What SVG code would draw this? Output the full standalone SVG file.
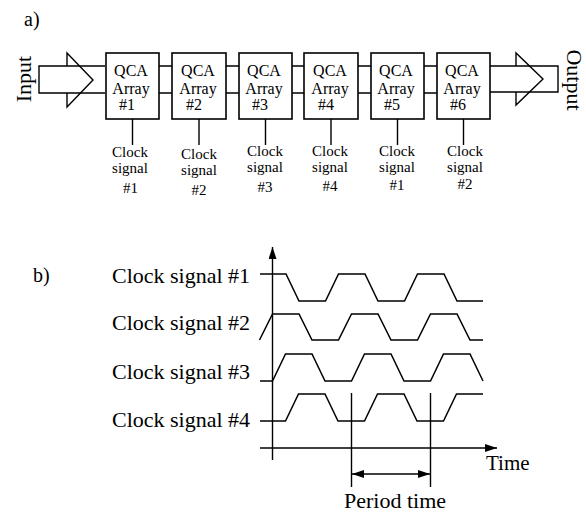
<svg xmlns="http://www.w3.org/2000/svg" width="586" height="514" viewBox="0 0 586 514">
<style>
  text { font-family: "Liberation Serif", "Times New Roman", serif; fill: #000; }
  .ln { stroke: #000; stroke-width: 1.4; fill: none; }
  .box { stroke: #000; stroke-width: 1.6; fill: #fff; }
  .bt { font-size: 16px; text-anchor: middle; }
  .ct { font-size: 15px; text-anchor: middle; }
  .lab { font-size: 22px; }
  .wave { stroke: #000; stroke-width: 1.5; fill: none; stroke-linejoin: miter; }
</style>
<defs>
  <marker id="ah" viewBox="0 0 12 8" refX="12" refY="4" markerWidth="12" markerHeight="8" markerUnits="userSpaceOnUse" orient="auto-start-reverse">
    <path d="M0,0 L12,4 L0,8 Z" fill="#000"/>
  </marker>
</defs>

<text x="24" y="26" font-size="20">a)</text>
<text x="33" y="282" font-size="20">b)</text>

<g id="connectors">
  <!-- input arrow -->
  <path class="ln" d="M105,66 L39,66 L39,93 L105,93"/>
  <path class="ln" d="M67,66 L67,53 L93,80 L67,107 L67,93"/>
  <!-- links between boxes -->
  <path class="ln" d="M159,66 H172 M159,93 H172 M226,66 H239 M226,93 H239 M292,66 H304 M292,93 H304 M358,66 H371 M358,93 H371 M424,66 H437 M424,93 H437"/>
  <!-- output arrow -->
  <path class="ln" d="M490,66 L558,66 L558,92 L490,92"/>
  <path class="ln" d="M516,66 L516,53 L543,79 L516,105 L516,92"/>
  <!-- clock lines -->
  <path class="ln" d="M132.5,119 V145 M199,119 V145 M265.5,119 V145 M331,119 V145 M397.5,119 V145 M463.5,119 V145"/>
</g>

<text class="lab" transform="translate(30.5,79) rotate(-90)" text-anchor="middle">Input</text>
<text class="lab" transform="translate(566.5,80) rotate(90)" text-anchor="middle">Output</text>

<g id="qca1"><rect class="box" x="106" y="53" width="53" height="66"/><text class="bt" x="131" y="76">QCA</text><text class="bt" x="131" y="93.5">Array</text><text class="bt" x="127" y="110">#1</text></g>
<g id="qca2"><rect class="box" x="172" y="53" width="54" height="66"/><text class="bt" x="198" y="76">QCA</text><text class="bt" x="198" y="93.5">Array</text><text class="bt" x="194" y="110">#2</text></g>
<g id="qca3"><rect class="box" x="239" y="53" width="53" height="66"/><text class="bt" x="264" y="76">QCA</text><text class="bt" x="264" y="93.5">Array</text><text class="bt" x="260" y="110">#3</text></g>
<g id="qca4"><rect class="box" x="304" y="53" width="54" height="66"/><text class="bt" x="330" y="76">QCA</text><text class="bt" x="330" y="93.5">Array</text><text class="bt" x="326" y="110">#4</text></g>
<g id="qca5"><rect class="box" x="371" y="53" width="53" height="66"/><text class="bt" x="396" y="76">QCA</text><text class="bt" x="396" y="93.5">Array</text><text class="bt" x="392" y="110">#5</text></g>
<g id="qca6"><rect class="box" x="437" y="53" width="53" height="66"/><text class="bt" x="462" y="76">QCA</text><text class="bt" x="462" y="93.5">Array</text><text class="bt" x="458" y="110">#6</text></g>

<g id="clk1"><text class="ct" x="130" y="157">Clock</text><text class="ct" x="130" y="173">signal</text><text class="ct" x="130.5" y="193">#1</text></g>
<g id="clk2"><text class="ct" x="199" y="159">Clock</text><text class="ct" x="199" y="175">signal</text><text class="ct" x="199" y="195">#2</text></g>
<g id="clk3"><text class="ct" x="265" y="156">Clock</text><text class="ct" x="265" y="172">signal</text><text class="ct" x="265" y="192">#3</text></g>
<g id="clk4"><text class="ct" x="330" y="156">Clock</text><text class="ct" x="330" y="172">signal</text><text class="ct" x="330" y="191">#4</text></g>
<g id="clk5"><text class="ct" x="397" y="156">Clock</text><text class="ct" x="397" y="172">signal</text><text class="ct" x="397" y="190">#1</text></g>
<g id="clk6"><text class="ct" x="465" y="156">Clock</text><text class="ct" x="465" y="172">signal</text><text class="ct" x="465" y="189">#2</text></g>

<!-- part b -->
<text class="lab" x="112" y="283">Clock signal #1</text>
<text class="lab" x="112" y="330">Clock signal #2</text>
<text class="lab" x="112" y="379">Clock signal #3</text>
<text class="lab" x="112" y="427">Clock signal #4</text>

<g id="axes">
  <line class="ln" x1="272.5" y1="460" x2="272.5" y2="247" marker-end="url(#ah)"/>
  <line class="ln" x1="260" y1="448" x2="497" y2="448" marker-end="url(#ah)"/>
  <line class="ln" x1="351.5" y1="393" x2="351.5" y2="487"/>
  <line class="ln" x1="430.5" y1="393" x2="430.5" y2="487"/>
  <line class="ln" x1="352" y1="474" x2="430" y2="474" marker-start="url(#ah)" marker-end="url(#ah)"/>
</g>

<g id="waves">
  <polyline class="wave" points="260,274 286,274 299,301 325.5,301 338.5,274 365,274 378,301 404.5,301 417.5,274 444,274 457,301 483,301"/>
  <polyline class="wave" points="259.5,340 272.5,314 299,314 312,340 338.5,340 351.5,314 378,314 391,340 417.5,340 430.5,314 457,314 470,340 483,340"/>
  <polyline class="wave" points="260,381 272.5,381 285.5,354 312,354 325,381 351.5,381 364.5,354 391,354 404,381 430.5,381 443.5,354 470,354 483,381"/>
  <polyline class="wave" points="260,421 285.5,421 298.5,394 325,394 338,421 364.5,421 377.5,394 404,394 417,421 443.5,421 456.5,394 483,394"/>
</g>

<text x="486" y="470" font-size="21">Time</text>
<text x="395" y="508" font-size="22" text-anchor="middle">Period time</text>
</svg>
